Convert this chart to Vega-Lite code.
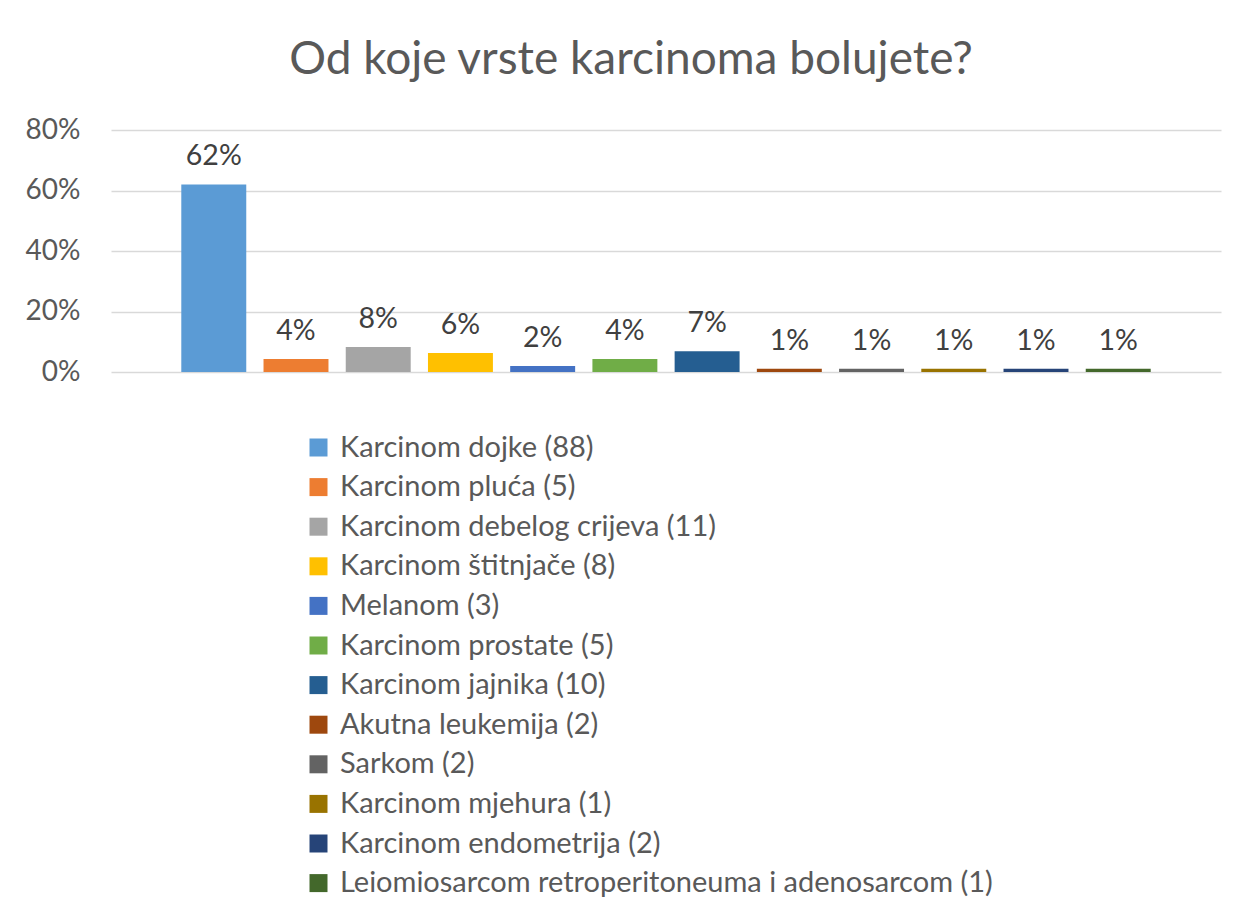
{
  "$schema": "https://vega.github.io/schema/vega-lite/v6.json",
  "autosize": {"type": "none"},
  "width": 1110,
  "height": 242,
  "padding": {"left": 111, "top": 130, "right": 18, "bottom": 530},
  "background": "white",
  "config": {
    "font": "Lato",
    "view": {"stroke": null}
  },
  "title": {
    "text": "Od koje vrste karcinoma bolujete?",
    "anchor": "middle",
    "frame": "group",
    "dx": -35,
    "offset": 32,
    "fontSize": 46,
    "fontWeight": "normal",
    "font": "Lato",
    "color": "#595959"
  },
  "data": {
    "values": [
      {"vrsta": "Karcinom dojke (88)", "udio": 0.62, "oznaka": "62%"},
      {"vrsta": "Karcinom pluća (5)", "udio": 0.043, "oznaka": "4%"},
      {"vrsta": "Karcinom debelog crijeva (11)", "udio": 0.083, "oznaka": "8%"},
      {"vrsta": "Karcinom štitnjače (8)", "udio": 0.063, "oznaka": "6%"},
      {"vrsta": "Melanom (3)", "udio": 0.02, "oznaka": "2%"},
      {"vrsta": "Karcinom prostate (5)", "udio": 0.043, "oznaka": "4%"},
      {"vrsta": "Karcinom jajnika (10)", "udio": 0.069, "oznaka": "7%"},
      {"vrsta": "Akutna leukemija (2)", "udio": 0.011, "oznaka": "1%"},
      {"vrsta": "Sarkom (2)", "udio": 0.011, "oznaka": "1%"},
      {"vrsta": "Karcinom mjehura (1)", "udio": 0.011, "oznaka": "1%"},
      {"vrsta": "Karcinom endometrija (2)", "udio": 0.011, "oznaka": "1%"},
      {"vrsta": "Leiomiosarcom retroperitoneuma i adenosarcom (1)", "udio": 0.011, "oznaka": "1%"}
    ]
  },
  "encoding": {
    "x": {
      "field": "vrsta",
      "type": "nominal",
      "sort": null,
      "axis": null,
      "scale": {"paddingInner": 0.21, "paddingOuter": 0.855}
    },
    "y": {
      "field": "udio",
      "type": "quantitative",
      "scale": {"domain": [0, 0.8], "nice": false},
      "axis": {
        "title": null,
        "format": ".0%",
        "values": [0, 0.2, 0.4, 0.6, 0.8],
        "domain": false,
        "ticks": false,
        "labelPadding": 31,
        "labelFontSize": 28,
        "labelColor": "#595959",
        "labelFont": "Lato",
        "gridColor": "#d9d9d9",
        "gridWidth": 1.5
      }
    }
  },
  "layer": [
    {
      "mark": {"type": "bar"},
      "encoding": {
        "color": {
          "field": "vrsta",
          "type": "nominal",
          "sort": null,
          "scale": {
            "range": ["#5B9BD5", "#ED7D31", "#A5A5A5", "#FFC000", "#4472C4", "#70AD47", "#255E91", "#9E480E", "#636363", "#997300", "#264478", "#43682B"]
          },
          "legend": {
            "title": null,
            "orient": "none",
            "legendX": 193,
            "legendY": 303,
            "symbolType": "square",
            "symbolSize": 324,
            "symbolStrokeWidth": 0,
            "labelFontSize": 29,
            "labelColor": "#595959",
            "labelFont": "Lato",
            "labelLimit": 900,
            "labelOffset": 7,
            "rowPadding": 9.6
          }
        }
      }
    },
    {
      "mark": {"type": "text", "baseline": "alphabetic", "dy": -19, "fontSize": 28.5, "color": "#404040", "font": "Lato"},
      "encoding": {
        "text": {"field": "oznaka"}
      }
    }
  ]
}
